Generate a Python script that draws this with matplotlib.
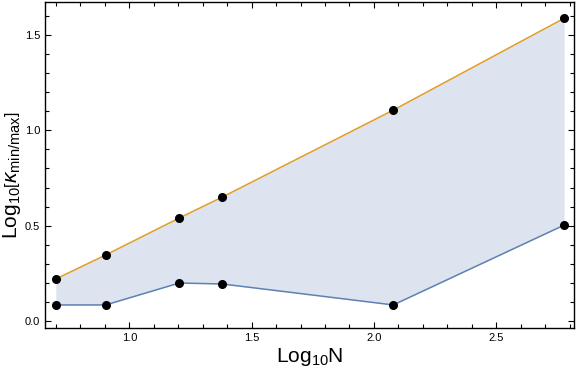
import numpy as np
import matplotlib
matplotlib.use("Agg")
import matplotlib.pyplot as plt
from matplotlib.ticker import MultipleLocator

plt.rcParams['font.family'] = ['Liberation Sans', 'DejaVu Sans']
plt.rcParams['mathtext.fontset'] = 'custom'
plt.rcParams['mathtext.rm'] = 'Liberation Sans'
plt.rcParams['mathtext.it'] = 'Liberation Sans:italic'

log_n = [0.699, 0.903, 1.204, 1.380, 2.079, 2.778]
kappa_max = [0.220, 0.346, 0.540, 0.650, 1.106, 1.588]
kappa_min = [0.084, 0.084, 0.199, 0.194, 0.084, 0.503]

blue = '#5E81B5'
orange = '#E19C24'

fig = plt.figure(figsize=(5.76, 3.70), dpi=100)
ax = fig.add_axes([0.0781, 0.1135, 0.9184, 0.8815])

ax.fill_between(log_n, kappa_min, kappa_max, color='#DEE4EF', lw=0, zorder=1)
ax.plot(log_n, kappa_max, color=orange, lw=1.1, zorder=2)
ax.plot(log_n, kappa_min, color=blue, lw=1.1, zorder=2)
ax.plot(log_n, kappa_max, 'o', color='black', ms=5.5, zorder=3)
ax.plot(log_n, kappa_min, 'o', color='black', ms=5.5, zorder=3)

ax.set_xlim(0.655, 2.818)
ax.set_ylim(-0.037, 1.674)

ax.xaxis.set_major_locator(MultipleLocator(0.5))
ax.xaxis.set_minor_locator(MultipleLocator(0.1))
ax.yaxis.set_major_locator(MultipleLocator(0.5))
ax.yaxis.set_minor_locator(MultipleLocator(0.1))
ax.tick_params(which='both', direction='in', top=True, right=True, width=0.8,
               labelsize=8, colors='black')
ax.tick_params(which='major', length=4.5)
ax.tick_params(which='minor', length=2.6)
for s in ax.spines.values():
    s.set_linewidth(1.0)

ax.set_xlabel(r'Log$_{10}$N', fontsize=15, labelpad=2)
ax.set_ylabel(r'Log$_{10}\left[\kappa_{\mathrm{min/max}}\right]$', fontsize=15,
              va='center', ha='center')
ax.yaxis.set_label_coords(-0.062, 0.47)

fig.savefig('out.png', dpi=100)
